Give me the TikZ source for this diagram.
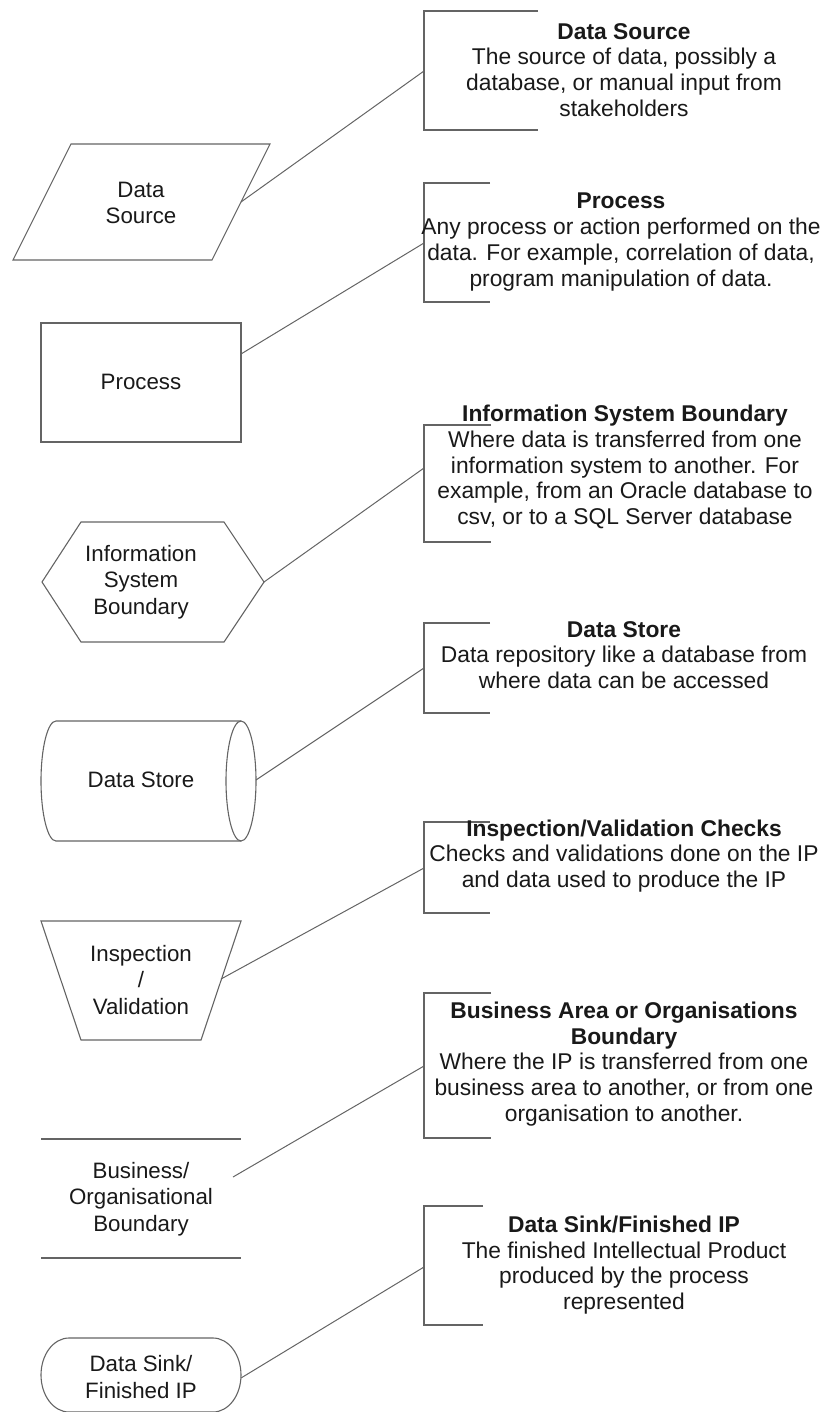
\documentclass[tikz,border=0pt]{standalone}
\usepackage{fontspec}
\setmainfont{Liberation Sans}
\definecolor{linegray}{RGB}{100,100,100}
\definecolor{txt}{RGB}{25,25,25}
\begin{document}
\begin{tikzpicture}[x=1pt,y=-1pt,
  shp/.style={draw=linegray,line width=1.1pt,line join=miter},
  lbl/.style={align=center,font=\fontsize{22.3}{26.5}\selectfont,text=txt,inner sep=0pt},
  desc/.style={align=center,font=\fontsize{22.8}{25.8}\selectfont,text=txt,inner sep=0pt},
  brk/.style={draw=linegray,line width=1.1pt},
  conn/.style={draw=linegray,line width=1pt}]
\useasboundingbox (0,0) rectangle (825,1412);

% ---------- Data Source ----------
\draw[shp] (71,144) -- (270,144) -- (212,260) -- (13,260) -- cycle;
\node[lbl] (dsL) at (141,203) {Data\\Source};
\coordinate (dsA) at (241,202);
\draw[brk] (538,11) -- (424,11) -- (424,130) -- (538,130);
\coordinate (dsB) at (424,71);
\node[desc] (dsT) at (624,70) {\textbf{Data Source}\\The source of data, possibly a\\database, or manual input from\\stakeholders};
\draw[conn] (dsA) -- (dsB);

% ---------- Process ----------
\draw[shp] (41,323) rectangle (241,442);
\node[lbl] (prL) at (141,382) {Process};
\coordinate (prA) at (241,354);
\draw[brk] (490,183) -- (424,183) -- (424,302) -- (490,302);
\coordinate (prB) at (424,243);
\node[desc] (prT) at (621,242) {\textbf{Process}\\Any process or action performed on the\\data. For example, correlation of data,\\program manipulation of data.};
\draw[conn] (prA) -- (prB);

% ---------- Information System Boundary ----------
\draw[shp] (42,582) -- (81,522) -- (224,522) -- (264,582) -- (224,642) -- (81,642) -- cycle;
\node[lbl] (isL) at (141,582) {Information\\System\\Boundary};
\coordinate (isA) at (264,582);
\draw[brk] (491,425) -- (424,425) -- (424,542) -- (491,542);
\coordinate (isB) at (424,468);
\node[desc] (isT) at (625,467) {\textbf{Information System Boundary}\\Where data is transferred from one\\information system to another. For\\example, from an Oracle database to\\csv, or to a SQL Server database};
\draw[conn] (isA) -- (isB);

% ---------- Data Store ----------
\draw[shp] (241,721) -- (56,721) .. controls (47.7,721) and (41,747.9) .. (41,781)
  .. controls (41,814.1) and (47.7,841) .. (56,841) -- (241,841);
\draw[shp] (241,781) ellipse [x radius=15, y radius=60];
\node[lbl] (stL) at (141,780) {Data Store};
\coordinate (stA) at (256,780);
\draw[brk] (490,623) -- (424,623) -- (424,713) -- (490,713);
\coordinate (stB) at (424,668);
\node[desc] (stT) at (624,655) {\textbf{Data Store}\\Data repository like a database from\\where data can be accessed};
\draw[conn] (stA) -- (stB);

% ---------- Inspection / Validation ----------
\draw[shp] (41,921) -- (241,921) -- (201,1040) -- (81,1040) -- cycle;
\node[lbl] (inL) at (141,980) {Inspection\\/\\Validation};
\coordinate (inA) at (221,979);
\draw[brk] (490,822) -- (424,822) -- (424,913) -- (490,913);
\coordinate (inB) at (424,868);
\node[desc] (inT) at (624,856) {\textbf{Inspection/Validation Checks}\\Checks and validations done on the IP\\and data used to produce the IP};
\draw[conn] (inA) -- (inB);

% ---------- Business / Organisational Boundary ----------
\draw[shp] (41,1139) -- (241,1139);
\draw[shp] (41,1258) -- (241,1258);
\node[lbl] (buL) at (141,1199) {Business/\\Organisational\\Boundary};
\coordinate (buA) at (233,1177);
\draw[brk] (491,993) -- (424,993) -- (424,1138) -- (491,1138);
\coordinate (buB) at (424,1066);
\node[desc] (buT) at (624,1064) {\textbf{Business Area or Organisations}\\\textbf{Boundary}\\Where the IP is transferred from one\\business area to another, or from one\\organisation to another.};
\draw[conn] (buA) -- (buB);

% ---------- Data Sink / Finished IP ----------
\draw[shp] (69,1338) -- (213,1338) .. controls (228.5,1338) and (241,1354.6) .. (241,1375)
  .. controls (241,1395.4) and (228.5,1412) .. (213,1412) -- (69,1412)
  .. controls (53.5,1412) and (41,1395.4) .. (41,1375)
  .. controls (41,1354.6) and (53.5,1338) .. (69,1338) -- cycle;
\node[lbl] (skL) at (141,1377) {Data Sink/\\Finished IP};
\coordinate (skA) at (241,1378);
\draw[brk] (483,1206) -- (424,1206) -- (424,1325) -- (483,1325);
\coordinate (skB) at (424,1267);
\node[desc] (skT) at (624,1265) {\textbf{Data Sink/Finished IP}\\The finished Intellectual Product\\produced by the process\\represented};
\draw[conn] (skA) -- (skB);
\end{tikzpicture}
\end{document}
